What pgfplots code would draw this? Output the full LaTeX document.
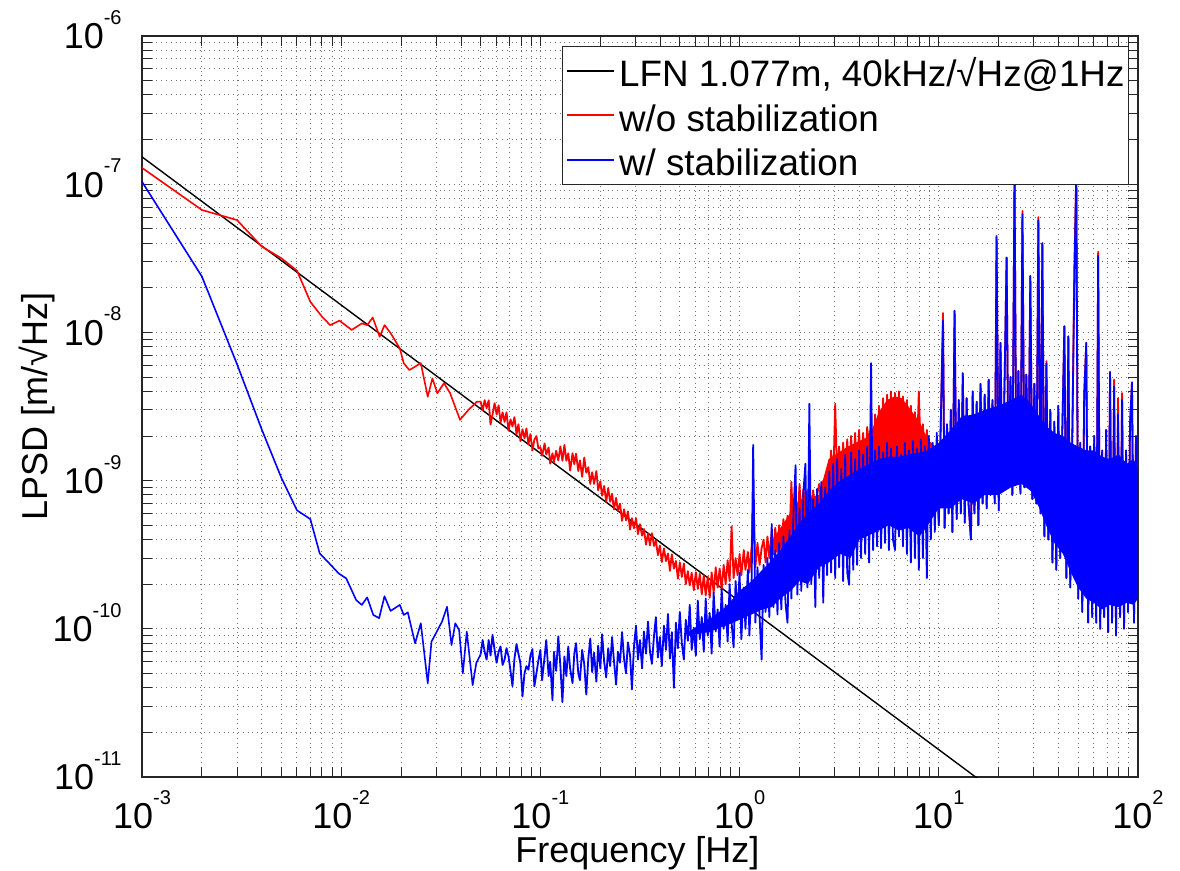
\documentclass[border=0pt]{standalone}
\usepackage{fontspec}
\setmainfont{Liberation Sans}
\usepackage{pgfplots}
\usepackage{pgfplotstable}
\pgfplotsset{compat=1.18}

% exponent of the tick labels, MATLAB style
\newcommand{\ep}[1]{\raisebox{12.2pt}{\fontsize{10}{10}\selectfont#1}}

% w/o stabilization, low frequencies
\pgfplotstableread{
f y
0.001 1.29e-7
0.002 6.7e-8
0.003 5.73e-8
0.004 3.79e-8
0.005 3.17e-8
0.006 2.61e-8
0.007 1.61e-8
0.008 1.28e-8
0.0088 1.12e-8
0.0098 1.2e-8
0.0113 1.04e-8
0.0127 1.15e-8
0.0135 1.12e-8
0.0144 1.26e-8
0.0156 9.35e-9
0.0165 1.12e-8
0.0177 9.9e-9
0.0197 7.8e-9
0.0206 6.2e-9
0.0220 5.57e-9
0.0251 6.2e-9
0.0272 3.68e-9
0.0287 4.9e-9
0.0304 3.89e-9
0.0328 4.54e-9
0.0352 3.9e-9
0.0395 2.57e-9
0.0434 2.99e-9
0.0479 3.4e-9
0.0501 3.42e-9
}\redlow

% w/ stabilization, low frequencies
\pgfplotstableread{
f y
0.001 1.04e-7
0.002 2.38e-8
0.003 6.1e-9
0.004 2.2e-9
0.005 1.05e-9
0.006 6.3e-10
0.007 5.5e-10
0.0078 3.23e-10
0.0087 2.77e-10
0.0097 2.37e-10
0.0106 2.19e-10
0.0119 1.56e-10
0.0127 1.45e-10
0.0135 1.63e-10
0.0145 1.24e-10
0.0155 1.18e-10
0.0165 1.66e-10
0.0177 1.32e-10
0.0197 1.45e-10
0.0206 1.24e-10
0.0216 1.29e-10
0.0235 7.98e-11
0.0251 1.09e-10
0.0272 4.29e-11
0.0284 8.19e-11
0.0321 1.12e-10
0.0340 1.41e-10
0.0358 7.78e-11
0.0374 1.09e-10
0.0391 9.8e-11
0.0408 5.0e-11
0.0427 9.57e-11
0.0457 4.17e-11
0.0477 5.9e-11
0.0501 6.7e-11
}\bluelow

% both spectra above 0.05 Hz: r = w/o, b = w/ stabilization
\pgfplotstableread{
f r b
0.0501 3.42e-9 6.7e-11
0.0513 2.98e-9 8.4e-11
0.0525 3.49e-9 7.0e-11
0.0537 3.08e-9 6.2e-11
0.0550 3.48e-9 8.4e-11
0.0562 2.39e-9 6.6e-11
0.0575 2.79e-9 9.1e-11
0.0589 3.33e-9 7.2e-11
0.0603 2.79e-9 5.9e-11
0.0617 3.22e-9 7.0e-11
0.0631 2.47e-9 7.6e-11
0.0646 2.89e-9 5.7e-11
0.0661 2.49e-9 6.2e-11
0.0676 2.89e-9 7.4e-11
0.0692 2.17e-9 6.5e-11
0.0708 2.59e-9 5.2e-11
0.0724 2.32e-9 4.1e-11
0.0741 2.68e-9 6.3e-11
0.0759 2.06e-9 7.9e-11
0.0776 2.40e-9 6.8e-11
0.0794 1.85e-9 5.85e-11
0.0813 2.22e-9 3.5e-11
0.0832 1.93e-9 5.0e-11
0.0851 2.25e-9 5.6e-11
0.0871 1.76e-9 5.3e-11
0.0891 2.06e-9 6.6e-11
0.0912 1.60e-9 7.3e-11
0.0933 1.89e-9 4.1e-11
0.0955 2.00e-9 5.0e-11
0.0977 1.65e-9 6.1e-11
0.100 1.68e-9 7.2e-11
0.102 1.47e-9 4.5e-11
0.105 1.78e-9 6.5e-11
0.107 1.50e-9 8.4e-11
0.110 1.67e-9 4.8e-11
0.112 1.30e-9 6.0e-11
0.115 1.53e-9 3.3e-11
0.117 1.33e-9 7.0e-11
0.120 1.59e-9 5.2e-11
0.123 1.37e-9 8.9e-11
0.126 1.70e-9 5.6e-11
0.129 1.36e-9 3.2e-11
0.132 1.74e-9 6.5e-11
0.135 1.36e-9 4.8e-11
0.138 1.53e-9 7.6e-11
0.141 1.17e-9 5.4e-11
0.145 1.53e-9 4.3e-11
0.148 1.29e-9 6.8e-11
0.151 1.52e-9 8.0e-11
0.155 1.16e-9 5.0e-11
0.158 1.37e-9 4.5e-11
0.162 1.06e-9 7.2e-11
0.166 1.43e-9 5.8e-11
0.170 1.13e-9 3.6e-11
0.174 1.23e-9 6.3e-11
0.178 9.5e-10 8.6e-11
0.182 1.14e-9 5.1e-11
0.186 9.5e-10 6.9e-11
0.191 1.16e-9 4.4e-11
0.195 8.6e-10 7.7e-11
0.200 9.9e-10 5.4e-11
0.204 7.9e-10 9.2e-11
0.209 9.2e-10 6.0e-11
0.214 7.2e-10 4.7e-11
0.219 8.9e-10 7.4e-11
0.224 7.2e-10 5.6e-11
0.229 8.15e-10 8.8e-11
0.234 6.4e-10 6.1e-11
0.240 7.65e-10 4.2e-11
0.245 6.24e-10 7.0e-11
0.251 7.0e-10 5.9e-11
0.257 5.35e-10 9.5e-11
0.263 6.4e-10 6.3e-11
0.269 5.4e-10 5.0e-11
0.275 6.2e-10 8.1e-11
0.282 4.67e-10 6.6e-11
0.288 5.58e-10 3.9e-11
0.295 4.77e-10 7.6e-11
0.302 5.58e-10 1.05e-10
0.309 4.36e-10 6.2e-11
0.316 5.08e-10 8.4e-11
0.324 4.25e-10 5.4e-11
0.331 4.71e-10 9.6e-11
0.339 3.7e-10 6.8e-11
0.347 4.41e-10 1.12e-10
0.355 3.66e-10 7.0e-11
0.363 4.42e-10 5.8e-11
0.372 3.62e-10 9.0e-11
0.380 3.95e-10 1.2e-10
0.389 3.14e-10 6.4e-11
0.398 3.65e-10 8.8e-11
0.407 2.82e-10 5.6e-11
0.417 3.49e-10 1.05e-10
0.427 2.86e-10 7.2e-11
0.437 3.22e-10 1.26e-10
0.447 2.46e-10 6.3e-11
0.457 3.18e-10 9.5e-11
0.468 2.55e-10 4.0e-11
0.479 2.87e-10 1.1e-10
0.490 2.18e-10 7.4e-11
0.501 2.81e-10 1.3e-10
0.513 2.24e-10 8.0e-11
0.525 2.76e-10 6.2e-11
0.537 2.0e-10 1.15e-10
0.550 2.45e-10 8.3e-11
0.562 1.96e-10 1.45e-10
0.575 2.39e-10 7.2e-11
0.589 1.82e-10 1.02e-10
0.603 2.41e-10 6.6e-11
0.617 1.86e-10 1.55e-10
0.631 2.35e-10 8.5e-11
0.646 1.71e-10 1.2e-10
0.661 2.3e-10 7.0e-11
0.676 1.68e-10 1.6e-10
0.692 2.25e-10 9.0e-11
0.708 1.62e-10 1.28e-10
0.724 2.4e-10 6.8e-11
0.741 1.75e-10 1.75e-10
0.759 2.6e-10 9.6e-11
0.776 1.9e-10 1.35e-10
0.794 2.55e-10 7.6e-11
0.813 1.85e-10 1.85e-10
0.832 2.7e-10 1.0e-10
0.851 2.0e-10 1.45e-10
0.871 2.9e-10 8.2e-11
0.891 2.1e-10 2.0e-10
0.912 4.9e-10 1.1e-10
0.933 2.2e-10 7.5e-11
0.955 3.0e-10 2.1e-10
0.977 2.3e-10 1.25e-10
1.00 3.2e-10 2.4e-10
1.02 2.3e-10 8.5e-11
1.05 3.4e-10 1.9e-10
1.07 2.5e-10 1.0e-10
1.10 3.3e-10 2.5e-10
1.12 2.4e-10 9.0e-11
1.15 3.6e-10 2.2e-10
1.17 8.3e-10 1.74e-9
1.20 2.6e-10 1.1e-10
1.23 3.8e-10 2.6e-10
1.26 2.7e-10 1.2e-10
1.29 3.5e-10 6.2e-11
1.32 4.0e-10 2.7e-10
1.35 2.8e-10 1.3e-10
1.38 4.2e-10 3.0e-10
1.41 3.0e-10 1.2e-10
1.45 4.6e-10 5.1e-10
1.48 3.2e-10 1.4e-10
1.51 4.8e-10 3.4e-10
1.55 3.3e-10 1.25e-10
1.58 5.0e-10 3.8e-10
1.62 3.5e-10 1.35e-10
1.66 5.5e-10 4.2e-10
1.70 3.6e-10 1.5e-10
1.74 5.8e-10 1.1e-10
1.78 4.0e-10 4.6e-10
1.82 9.8e-10 1.6e-10
1.86 4.5e-10 5.5e-10
1.91 7.0e-10 1.27e-9
1.95 5.0e-10 1.7e-10
2.00 9.5e-10 6.5e-10
2.04 5.5e-10 1.8e-10
2.09 8.8e-10 8.2e-10
2.14 6.0e-10 1.3e-9
2.19 8.5e-10 1.9e-10
2.24 9.0e-10 3.3e-9
2.29 6.5e-10 2.0e-10
2.34 8.6e-10 7.5e-10
2.40 6.0e-10 1.4e-10
2.45 8.0e-10 8.8e-10
2.51 9.5e-10 2.2e-10
2.57 7.0e-10 9.8e-10
2.63 1.0e-9 1.5e-10
2.69 8.0e-10 9.0e-10
2.75 1.2e-9 2.3e-10
2.82 9.0e-10 1.15e-9
2.88 1.6e-9 2.4e-10
2.95 9.5e-10 1.3e-9
3.02 3.3e-9 2.2e-10
3.09 1.0e-9 1.4e-9
3.16 1.7e-9 2.6e-10
3.24 9.5e-10 1.2e-9
3.31 1.8e-9 2.1e-10
3.39 1.0e-9 1.5e-9
3.47 1.9e-9 2.4e-10
3.55 1.05e-9 1.98e-10
3.63 2.0e-9 1.55e-9
3.72 1.1e-9 2.5e-10
3.80 2.1e-9 1.4e-9
3.89 1.1e-9 2.7e-10
3.98 2.2e-9 1.6e-9
4.07 1.2e-9 3.0e-10
4.17 2.1e-9 1.5e-9
4.27 1.2e-9 3.2e-10
4.37 2.3e-9 1.7e-9
4.47 1.7e-9 2.8e-10
4.57 2.5e-9 6.2e-9
4.68 1.4e-9 3.4e-10
4.79 2.8e-9 1.6e-9
4.90 1.5e-9 3.6e-10
5.01 3.2e-9 1.7e-9
5.13 1.5e-9 3.5e-10
5.25 3.6e-9 1.55e-9
5.37 1.6e-9 3.8e-10
5.50 3.8e-9 1.8e-9
5.62 1.55e-9 3.4e-10
5.75 4.0e-9 1.65e-9
5.89 1.7e-9 4.0e-10
6.03 3.9e-9 3.4e-10
6.17 1.6e-9 1.7e-9
6.31 4.0e-9 4.2e-10
6.46 1.5e-9 1.5e-9
6.61 3.7e-9 3.6e-10
6.76 1.6e-9 1.8e-9
6.92 3.5e-9 3.2e-10
7.08 1.45e-9 1.6e-9
7.24 3.2e-9 2.8e-10
7.41 1.5e-9 1.85e-9
7.59 2.9e-9 3.0e-10
7.76 1.4e-9 1.65e-9
7.94 4.0e-9 2.5e-10
8.13 1.4e-9 1.9e-9
8.32 2.4e-9 3.0e-10
8.51 1.3e-9 1.7e-9
8.71 2.2e-9 2.2e-10
8.91 1.2e-9 2.0e-9
9.12 1.8e-9 4.0e-10
9.33 1.1e-9 1.8e-9
9.55 1.7e-9 4.5e-10
9.77 1.2e-9 2.1e-9
10.0 5.0e-10 5.0e-10
10.2 2.0e-9 2.0e-9
10.5 1.35e-8 1.2e-8
10.7 4.8e-10 4.8e-10
11.0 2.4e-9 2.4e-9
11.2 6.0e-10 6.0e-10
11.5 3.0e-9 3.0e-9
11.7 4.5e-10 4.5e-10
12.0 1.4e-8 1.4e-8
12.3 5.5e-10 5.5e-10
12.6 3.5e-9 3.5e-9
12.9 6.0e-10 6.0e-10
13.2 5.3e-9 5.3e-9
13.5 5.2e-10 5.2e-10
13.8 3.6e-9 3.6e-9
14.1 7.0e-10 7.0e-10
14.5 4.0e-10 4.0e-10
14.8 4.0e-9 4.0e-9
15.1 6.0e-10 6.0e-10
15.5 3.4e-9 3.4e-9
15.8 5.0e-10 5.0e-10
16.2 4.5e-9 4.5e-9
16.6 7.0e-10 7.0e-10
17.0 3.8e-9 3.8e-9
17.4 6.5e-10 6.5e-10
17.8 4.8e-9 4.8e-9
18.2 8.0e-10 8.0e-10
18.6 3.5e-9 3.5e-9
19.1 7.0e-10 7.0e-10
19.5 4.5e-8 4.4e-8
20.0 6.3e-10 6.3e-10
20.4 8.5e-9 8.5e-9
20.9 8.5e-10 8.5e-10
21.4 4.8e-9 4.8e-9
21.9 3.2e-8 3.2e-8
22.4 9.0e-10 9.0e-10
22.9 5.0e-9 5.0e-9
23.4 8.0e-10 8.0e-10
24.0 1.2e-7 1.2e-7
24.5 1.0e-9 1.0e-9
25.1 5.5e-9 5.5e-9
25.7 8.2e-10 8.2e-10
26.3 6.6e-8 6.3e-8
26.9 9.0e-10 9.0e-10
27.5 5.2e-9 5.2e-9
28.2 1.1e-9 1.1e-9
28.8 2.4e-8 2.4e-8
29.5 7.5e-10 7.5e-10
30.2 4.5e-9 4.5e-9
30.9 7.0e-10 7.0e-10
31.6 6.0e-8 5.7e-8
32.4 6.0e-10 6.0e-10
33.1 4.0e-8 4.0e-8
33.9 4.2e-10 4.2e-10
34.7 6.4e-9 6.2e-9
35.5 4.0e-10 4.0e-10
36.3 3.0e-9 3.0e-9
37.2 2.8e-10 2.8e-10
38.0 2.5e-9 2.5e-9
38.9 2.5e-10 2.5e-10
39.8 3.2e-9 3.2e-9
40.7 3.0e-10 3.0e-10
41.7 2.2e-9 2.2e-9
42.7 1.1e-8 1.1e-8
43.7 2.2e-10 2.2e-10
44.7 9.4e-9 9.4e-9
45.7 1.9e-10 1.9e-10
46.8 2.0e-9 2.0e-9
47.9 2.7e-8 2.1e-8
49.0 1.2e-7 1.2e-7
50.1 1.6e-10 1.6e-10
51.3 1.8e-9 1.8e-9
52.5 1.3e-10 1.3e-10
53.7 3.8e-9 3.8e-9
55.0 8.5e-9 8.5e-9
56.2 1.1e-10 1.1e-10
57.5 1.7e-9 1.7e-9
58.9 1.2e-10 1.2e-10
60.3 2.0e-9 2.0e-9
61.7 1.1e-10 1.1e-10
63.1 3.5e-8 3.3e-8
64.6 1.0e-10 1.0e-10
66.1 1.6e-9 1.6e-9
67.6 1.2e-10 1.2e-10
69.2 2.2e-9 2.2e-9
70.8 9.5e-11 9.5e-11
72.4 5.4e-9 5.4e-9
74.1 1.1e-10 1.1e-10
75.9 4.8e-9 4.3e-9
77.6 9.0e-11 9.0e-11
79.4 3.6e-9 2.8e-9
81.3 1.2e-10 1.2e-10
83.2 3.9e-9 3.5e-9
85.1 1.0e-10 1.0e-10
87.1 1.6e-9 1.6e-9
89.1 1.3e-10 1.3e-10
91.2 2.4e-9 2.4e-9
93.3 4.6e-9 4.6e-9
95.5 1.1e-10 1.1e-10
97.7 2.0e-9 2.0e-9
100 3.0e-10 3.0e-10
}\dense

% dense core of the w/ stabilization trace (lower edge, then upper edge back)
\pgfplotstableread{
f y
0.55 9.0e-11
0.7 9.5e-11
0.85 1.05e-10
1.0 1.15e-10
1.15 1.25e-10
1.3 1.35e-10
1.45 1.4e-10
1.6 1.6e-10
1.8 1.8e-10
2.0 2.1e-10
2.2 2.0e-10
2.5 2.6e-10
2.8 2.8e-10
3.2 3.2e-10
3.6 3.0e-10
4.0 4.0e-10
4.5 4.3e-10
5.0 4.6e-10
5.6 5.0e-10
6.3 4.6e-10
7.0 4.8e-10
8.0 4.2e-10
8.8 5.0e-10
10 6.5e-10
11.5 6.5e-10
13 7.5e-10
15 7.0e-10
17 8.0e-10
20 8.0e-10
23 9.0e-10
26 9.5e-10
29 8.5e-10
32 6.5e-10
35 4.8e-10
38 3.8e-10
42 3.2e-10
46 2.4e-10
50 1.9e-10
55 1.6e-10
60 1.5e-10
66 1.35e-10
72 1.45e-10
80 1.4e-10
88 1.5e-10
95 1.45e-10
100 1.6e-10
100 1.2e-9
95 1.4e-9
88 1.3e-9
80 1.5e-9
72 1.4e-9
66 1.45e-9
60 1.6e-9
55 1.6e-9
50 1.7e-9
46 1.8e-9
42 2.0e-9
38 2.1e-9
35 2.3e-9
32 2.7e-9
29 3.3e-9
26 3.8e-9
23 3.5e-9
20 3.2e-9
17 3.0e-9
15 2.8e-9
13 2.7e-9
11.5 2.2e-9
10 1.8e-9
8.8 1.6e-9
8.0 1.55e-9
7.0 1.5e-9
6.3 1.45e-9
5.6 1.45e-9
5.0 1.4e-9
4.5 1.3e-9
4.0 1.2e-9
3.6 1.1e-9
3.2 1.0e-9
2.8 8.5e-10
2.5 7.0e-10
2.2 6.0e-10
2.0 5.2e-10
1.8 4.2e-10
1.6 3.4e-10
1.45 2.9e-10
1.3 2.5e-10
1.15 2.1e-10
1.0 1.8e-10
0.85 1.4e-10
0.7 1.15e-10
0.55 9.5e-11
}\bluecore

% dense core of the w/o stabilization trace where it shows above the other
\pgfplotstableread{
f y
1.5 3.2e-10
2.0 4.5e-10
2.5 5.5e-10
2.8 8.0e-10
3.5 1.0e-9
4.5 1.3e-9
5.0 1.4e-9
5.5 1.4e-9
6.5 1.4e-9
7.5 1.3e-9
8.5 1.2e-9
9.5 1.1e-9
9.5 1.6e-9
9.0 1.8e-9
8.5 2.1e-9
8.0 2.5e-9
7.5 2.8e-9
7.0 3.2e-9
6.5 3.6e-9
6.0 3.7e-9
5.5 3.5e-9
5.0 2.9e-9
4.5 2.0e-9
3.5 1.7e-9
2.8 1.4e-9
2.5 8.0e-10
2.0 7.5e-10
1.5 4.2e-10
}\redcore

\begin{document}
\begin{tikzpicture}
\path[use as bounding box] (-71pt,-47pt) rectangle (519pt,388.5pt);
\begin{axis}[
  at={(0pt,0pt)}, anchor=south west,
  scale only axis, width=498pt, height=370.5pt,
  xmode=log, ymode=log,
  xmin=1e-3, xmax=1e2, ymin=1e-11, ymax=1e-6,
  xtick={1e-3,1e-2,1e-1,1,1e1,1e2},
  xticklabels={10\ep{-3},10\ep{-2},10\ep{-1},10\ep{0},10\ep{1},10\ep{2}},
  ytick={1e-11,1e-10,1e-9,1e-8,1e-7,1e-6},
  yticklabels={10\ep{-11},10\ep{-10},10\ep{-9},10\ep{-8},10\ep{-7},10\ep{-6}},
  minor xtick={2e-3,3e-3,4e-3,5e-3,6e-3,7e-3,8e-3,9e-3,
    2e-2,3e-2,4e-2,5e-2,6e-2,7e-2,8e-2,9e-2,
    0.2,0.3,0.4,0.5,0.6,0.7,0.8,0.9,
    2,3,4,5,6,7,8,9,
    20,30,40,50,60,70,80,90},
  minor ytick={2e-11,3e-11,4e-11,5e-11,6e-11,7e-11,8e-11,9e-11,
    2e-10,3e-10,4e-10,5e-10,6e-10,7e-10,8e-10,9e-10,
    2e-9,3e-9,4e-9,5e-9,6e-9,7e-9,8e-9,9e-9,
    2e-8,3e-8,4e-8,5e-8,6e-8,7e-8,8e-8,9e-8,
    2e-7,3e-7,4e-7,5e-7,6e-7,7e-7,8e-7,9e-7},
  grid=both,
  major grid style={black!55, dotted, line width=0.5pt},
  minor grid style={black!55, dotted, line width=0.5pt},
  tick align=inside, major tick length=5pt, minor tick length=5pt,
  every tick/.style={black!85, line width=0.5pt},
  axis line style={black!85, line width=0.6pt},
  tick label style={font=\fontsize{18}{21}\selectfont},
  xticklabel style={inner sep=0pt, anchor=north, yshift=-6.5pt},
  yticklabel style={inner sep=0pt, anchor=base east, xshift=-10pt, yshift=-6.45pt},
  label style={font=\fontsize{18}{21}\selectfont},
  xlabel={Frequency [Hz]},
  ylabel={LPSD [m/√Hz]},
  xlabel style={at={(axis description cs:0.4975,-0.116)}, anchor=base},
  ylabel style={at={(axis description cs:-0.0944,0.5)}, anchor=base},
  legend style={at={(rel axis cs:0.991,0.987)}, anchor=north east,
    draw=black!85, line width=0.5pt, fill=white,
    font=\fontsize{18.4}{21}\selectfont,
    inner xsep=2pt, inner ysep=1.2pt, row sep=0pt,
    cells={anchor=west},
    nodes={inner sep=0pt, text height=19pt, text depth=3.25pt},
    /tikz/every odd column/.append style={column sep=2pt}},
  legend image code/.code={\draw[#1, line width=0.8pt] (0pt,0pt) -- (23.5pt,0pt);},
  every axis plot/.append style={line join=round},
]
\addplot[black, line width=0.7pt] coordinates {(1e-3,1.53e-7) (1e2,1.53e-12)};
\addlegendentry{LFN 1.077m, 40kHz/√Hz@1Hz}
\addplot[red, line width=0.8pt] table[x=f, y=y] {\redlow};
\addlegendentry{w/o stabilization}
\addplot[fill=red, draw=none, forget plot] table[x=f, y=y] {\redcore} -- cycle;
\addplot[red, line width=0.9pt, forget plot] table[x=f, y=r] {\dense};
\addplot[blue, line width=0.8pt] table[x=f, y=y] {\bluelow};
\addlegendentry{w/ stabilization}
\addplot[fill=blue, draw=none, forget plot] table[x=f, y=y] {\bluecore} -- cycle;
\addplot[blue, line width=0.9pt, forget plot] table[x=f, y=b] {\dense};
\end{axis}
\end{tikzpicture}
\end{document}
